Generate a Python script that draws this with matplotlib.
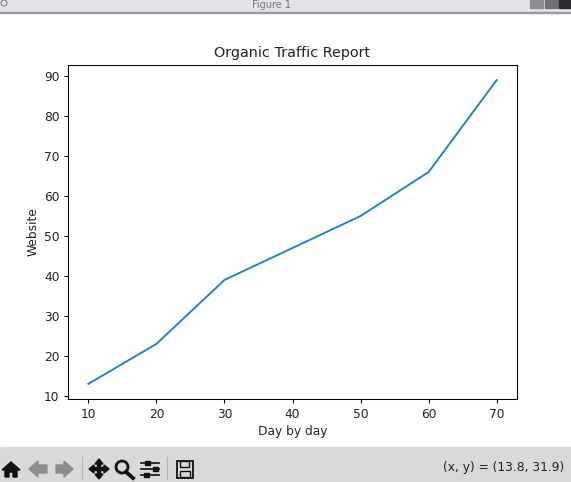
import matplotlib
matplotlib.use('Agg')
import matplotlib.pyplot as plt
from matplotlib.patches import Rectangle, Polygon, Circle

days = [10, 20, 30, 40, 50, 60, 70]
traffic = [13, 23, 39, 47, 55, 66, 89]

W, H = 571, 482

plt.rcParams['font.size'] = 8.8
plt.rcParams['axes.linewidth'] = 0.75
plt.rcParams['text.color'] = '#222222'
plt.rcParams['axes.labelcolor'] = '#222222'
plt.rcParams['xtick.labelcolor'] = '#222222'
plt.rcParams['ytick.labelcolor'] = '#222222'

fig = plt.figure(figsize=(W / 100, H / 100), dpi=100)
ax = fig.add_axes([68 / W, 1 - 399 / H, 449 / W, 334 / H])

ax.plot(days, traffic, color='#2a80b9', linewidth=1.4)
ax.set_title('Organic Traffic Report', fontsize=10.4, pad=5.5)
ax.set_xlabel('Day by day', labelpad=3)
ax.set_ylabel('Website', labelpad=3)
ax.tick_params(length=3.2, width=0.75, labelsize=8.8, pad=3)
ax.set_yticks(range(10, 100, 10))

# window chrome, in pixel coordinates
chrome = fig.add_axes([0, 0, 1, 1], zorder=-1)
chrome.set_xlim(0, W)
chrome.set_ylim(H, 0)
chrome.axis('off')

chrome.add_patch(Rectangle((0, 0), W, 11.5, color='#e3e4e9'))
chrome.add_patch(Rectangle((0, 11.5), W, 1.2, color='#98999c'))
chrome.text(271, 4.5, 'Figure 1', fontsize=7, color='#77787c', ha='center', va='center')
chrome.add_patch(Circle((4, 3), 3, fill=False, edgecolor='#77787c', linewidth=0.7))
chrome.add_patch(Rectangle((530, 0), 13, 8, color='#8d8d8f'))
chrome.add_patch(Rectangle((545, 0), 13, 8, color='#717173'))
chrome.add_patch(Rectangle((559, 0), 12, 8, color='#2e2e30'))

chrome.add_patch(Rectangle((0, 447), W, 35, color='#d9d9d9'))
chrome.text(564, 467, '(x, y) = (13.8, 31.9)', fontsize=8.8, ha='right', va='center')

# toolbar icons
dark = '#111111'
chrome.add_patch(Polygon([(2, 470), (11, 462), (20, 470), (17, 470), (17, 477), (13, 477), (13, 472),
                          (9, 472), (9, 477), (5, 477), (5, 470)], color=dark))
chrome.add_patch(Polygon([(29, 469), (38, 461), (38, 465), (47, 465), (47, 473), (38, 473), (38, 477)],
                         color='#8c8c8c'))
chrome.add_patch(Polygon([(73, 469), (64, 461), (64, 465), (56, 465), (56, 473), (64, 473), (64, 477)],
                         color='#8c8c8c'))
chrome.plot([82, 82], [457, 479], color='#b4b4b4', linewidth=0.8)
chrome.add_patch(Polygon([(89, 469), (94, 465), (94, 467.5), (97.5, 467.5), (97.5, 464), (95, 464),
                          (99, 459), (103, 464), (100.5, 464), (100.5, 467.5), (104, 467.5), (104, 465),
                          (109, 469), (104, 473), (104, 470.5), (100.5, 470.5), (100.5, 474), (103, 474),
                          (99, 479), (95, 474), (97.5, 474), (97.5, 470.5), (94, 470.5), (94, 473)],
                         color=dark))
chrome.add_patch(Circle((122, 467), 6, fill=False, edgecolor=dark, linewidth=2))
chrome.plot([126, 133], [472, 478], color=dark, linewidth=2.8)
for y, xm in [(463, 147), (469, 155), (475, 146)]:
    chrome.plot([141, 159], [y, y], color=dark, linewidth=1.2)
    chrome.add_patch(Rectangle((xm - 2.5, y - 2), 5, 4, color=dark))
chrome.plot([167, 167], [457, 479], color='#b4b4b4', linewidth=0.8)
chrome.add_patch(Rectangle((177, 460.5), 16, 17, fill=False, edgecolor=dark, linewidth=1.3))
chrome.add_patch(Rectangle((180, 461), 9, 6, fill=False, edgecolor=dark, linewidth=1))
chrome.add_patch(Rectangle((180, 471), 10, 6, fill=False, edgecolor=dark, linewidth=1))

fig.savefig('out.png', dpi=100)
